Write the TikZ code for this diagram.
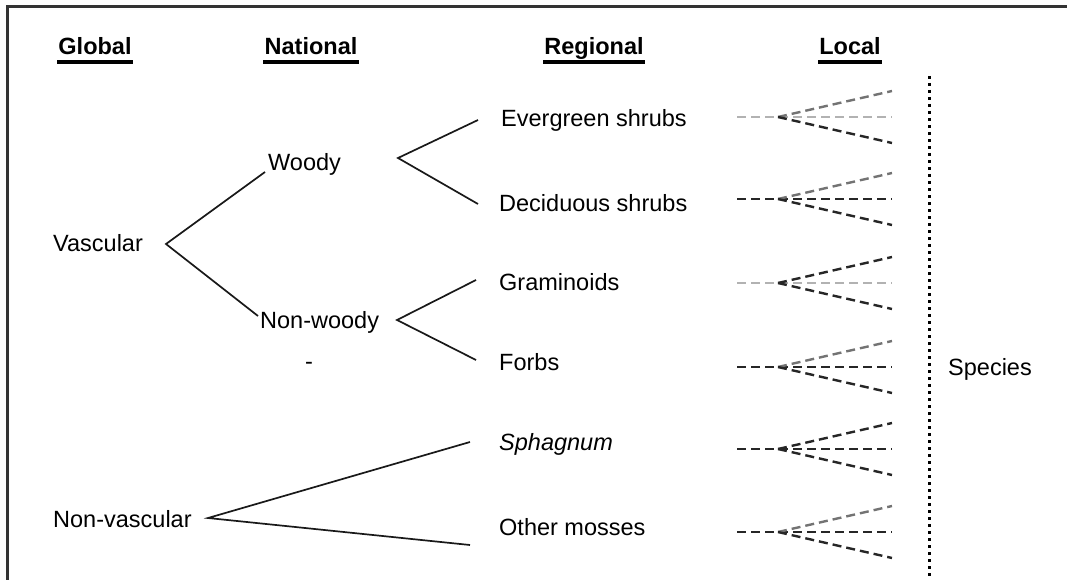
\documentclass[tikz,border=0pt]{standalone}
\usepackage{fontspec}
\setmainfont{Liberation Sans}
\begin{document}
\begin{tikzpicture}[x=1pt,y=-1pt,
  lab/.style={anchor=base west,inner sep=0pt,font=\fontsize{23.5}{28}\selectfont},
  head/.style={anchor=base,inner sep=0pt,font=\fontsize{23.5}{28}\selectfont\bfseries},
  uline/.style={line width=4pt},
  branch/.style={line width=1.7pt,black!90},
  fan/.style={line width=2.4pt,dash pattern=on 9pt off 5pt},
  species/.style={line width=3pt,dash pattern=on 3pt off 4pt},
  frame/.style={line width=3pt,black!80}]
\colorlet{fdark}{black!85}
\colorlet{fmid}{black!55}
\colorlet{flight}{black!30}
\useasboundingbox (0,0) rectangle (1067,580);

% frame (top and left edges)
\coordinate (frTR) at (1067,7);
\coordinate (frTL) at (7,7);
\coordinate (frBL) at (7,580);
\draw[frame] (frTR) -- (frTL) -- (frBL);

% column headings
\foreach \n/\x/\t in {hg/95/Global,hn/311/National,hr/594/Regional,hl/850/Local}{
  \node[head] (\n) at (\x,55) {\t};
  \draw[uline] ([yshift=-7pt,xshift=-1pt]\n.base west) -- ([yshift=-7pt,xshift=1pt]\n.base east);
}

% global level
\node[lab] (vasc) at (53,251) {Vascular};
\node[lab] (nonvasc) at (53,527) {Non-vascular};

% national level
\node[lab] (woody) at (268,171) {Woody};
\node[lab] (nonwoody) at (260,328) {Non-woody};
\node[lab] (dash) at (305,369) {-};

% regional level
\node[lab] (evg) at (501,127) {Evergreen shrubs};
\node[lab] (dec) at (499,211) {Deciduous shrubs};
\node[lab] (gram) at (499,290) {Graminoids};
\node[lab] (forb) at (499,370) {Forbs};
\node[lab] (sph) at (499,450) {\itshape Sphagnum};
\node[lab] (oth) at (499,535) {Other mosses};

% species
\node[lab] (spec) at (948,375) {Species};
\coordinate (spT) at (929,76);
\coordinate (spB) at (929,580);
\draw[species] (spT) -- (spB);

% branching lines
\coordinate (vascA) at (166,244);
\coordinate (woodyL) at (265,172);
\coordinate (nonwoodyL) at (258,316);
\draw[branch] (woodyL) -- (vascA) -- (nonwoodyL);

\coordinate (woodyA) at (398,158);
\coordinate (evgL) at (478,120);
\coordinate (decL) at (478,204);
\draw[branch] (evgL) -- (woodyA) -- (decL);

\coordinate (nonwoodyA) at (397,320);
\coordinate (gramL) at (476,280);
\coordinate (forbL) at (476,360);
\draw[branch] (gramL) -- (nonwoodyA) -- (forbL);

\coordinate (nonvascA) at (208,518);
\coordinate (sphL) at (470,442);
\coordinate (othL) at (470,545);
\draw[branch] (sphL) -- (nonvascA) -- (othL);

% local level: dashed fans
\foreach \i/\c/\ch/\ct/\cb in {1/117/flight/fmid/fdark,2/199/fdark/fmid/fdark,
    3/283/flight/fdark/fdark,4/367/fdark/fmid/fdark,5/449/fdark/fdark/fdark,
    6/532/fdark/fmid/fdark}{
  \coordinate (fS\i) at (737,\c);
  \coordinate (fA\i) at (778,\c);
  \coordinate (fE\i) at (892,\c);
  \coordinate (fT\i) at (892,\c-26);
  \coordinate (fB\i) at (892,\c+26);
  \draw[fan,\ch] (fS\i) -- (fE\i);
  \draw[fan,\ct] (fA\i) -- (fT\i);
  \draw[fan,\cb] (fA\i) -- (fB\i);
}
\end{tikzpicture}
\end{document}
